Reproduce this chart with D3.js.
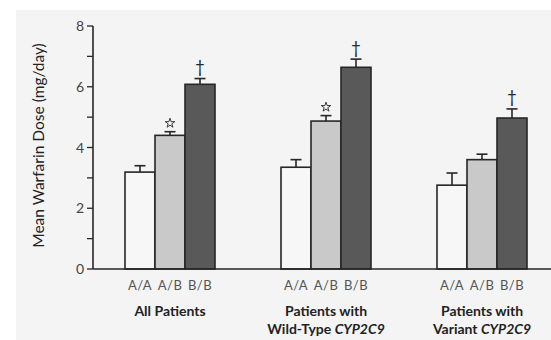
<!DOCTYPE html>
<html>
<head>
<meta charset="utf-8">
<script src="https://cdn.jsdelivr.net/npm/d3@7"></script>
<style>
  html, body { margin: 0; padding: 0; background: #ffffff; }
  svg { display: block; }
  text { font-family: Lato, "Open Sans", sans-serif; }
</style>
</head>
<body>
<script>
// Patient groups (title lines are split at "with")
const groups = ["All Patients", "Patients with Wild-Type CYP2C9", "Patients with Variant CYP2C9"];
const genotypes = ["A/A", "A/B", "B/B"];

// Mean warfarin dose (mg/day) per genotype in each group
const meanAA = [3.19, 3.35, 2.76];
const meanAB = [4.40, 4.87, 3.60];
const meanBB = [6.08, 6.64, 4.97];

// Upper end of the error bar (mean + SE)
const upperAA = [3.40, 3.60, 3.16];
const upperAB = [4.52, 5.05, 3.78];
const upperBB = [6.27, 6.91, 5.27];

// Significance markers above bars: "star" or "dagger"
const markAA = ["", "", ""];
const markAB = ["star", "star", ""];
const markBB = ["dagger", "dagger", "dagger"];

const yTicks = [0, 1, 2, 3, 4, 5, 6, 7, 8];
const yLabelTicks = [0, 2, 4, 6, 8];

const W = 551, H = 340;
const svg = d3.select("body").append("svg").attr("width", W).attr("height", H);

// light panel
svg.append("rect").attr("x", 16).attr("y", 10).attr("width", W - 16).attr("height", H - 10).attr("fill", "#f4f4f4");

const axisX = 93;
const y = d3.scaleLinear().domain([0, 8]).range([269, 26]);
const x0 = d3.scaleBand().domain(groups).range([92, 560]);
const x1 = d3.scaleBand().domain(genotypes).range([0, 90]);

const rows = [];
groups.forEach((g, i) => {
  rows.push({ g, k: "A/A", v: meanAA[i], hi: upperAA[i], m: markAA[i] });
  rows.push({ g, k: "A/B", v: meanAB[i], hi: upperAB[i], m: markAB[i] });
  rows.push({ g, k: "B/B", v: meanBB[i], hi: upperBB[i], m: markBB[i] });
});
const fills = { "A/A": "#f7f7f7", "A/B": "#c9c9c9", "B/B": "#595959" };
const ink = "#262626";

const bx = d => Math.round(x0(d.g) + (x0.bandwidth() - 90) / 2 + x1(d.k));
const cxOf = d => bx(d) + x1.bandwidth() / 2;

// error bars (drawn under the bars so only the upper half shows)
const eb = svg.append("g").attr("stroke", ink).attr("stroke-width", 1.6);
rows.forEach(d => {
  const cx = cxOf(d);
  eb.append("line").attr("x1", cx).attr("x2", cx).attr("y1", y(d.v)).attr("y2", y(d.hi));
  eb.append("line").attr("x1", cx - 5.5).attr("x2", cx + 5.5).attr("y1", y(d.hi)).attr("y2", y(d.hi));
});

svg.append("g").selectAll("rect").data(rows).join("rect")
  .attr("x", bx).attr("width", x1.bandwidth())
  .attr("y", d => y(d.v)).attr("height", d => y(0) - y(d.v))
  .attr("fill", d => fills[d.k]).attr("stroke", ink).attr("stroke-width", 1.6);

// open stars
const star = d3.symbol().type(d3.symbolStar).size(28);
svg.append("g").selectAll("path").data(rows.filter(d => d.m === "star")).join("path")
  .attr("d", star)
  .attr("transform", d => `translate(${cxOf(d)}, ${y(d.hi) - 8.5})`)
  .attr("fill", "none").attr("stroke", ink).attr("stroke-width", 0.9);

// daggers
svg.append("g").selectAll("text").data(rows.filter(d => d.m === "dagger")).join("text")
  .attr("x", cxOf)
  .attr("y", d => y(d.hi) - 5.5)
  .attr("text-anchor", "middle")
  .attr("font-family", "DejaVu Sans")
  .attr("font-size", 17)
  .attr("fill", ink)
  .text("†");

// y axis
const ya = svg.append("g");
ya.append("line").attr("x1", axisX).attr("x2", axisX).attr("y1", y(8)).attr("y2", y(0)).attr("stroke", ink).attr("stroke-width", 1.6);
ya.selectAll("line.t").data(yTicks).join("line").attr("class", "t")
  .attr("x1", axisX - 6).attr("x2", axisX).attr("y1", d => y(d)).attr("y2", d => y(d))
  .attr("stroke", ink).attr("stroke-width", 1.3);
ya.selectAll("text").data(yLabelTicks).join("text")
  .attr("x", axisX - 9).attr("y", d => y(d)).attr("dy", "0.36em")
  .attr("text-anchor", "end").attr("font-size", 14).attr("fill", "#444").text(d => d);

// baseline
svg.append("line").attr("x1", axisX).attr("x2", W).attr("y1", y(0)).attr("y2", y(0)).attr("stroke", ink).attr("stroke-width", 1.6);

// y axis title
svg.append("text").attr("transform", `translate(44, ${(y(0) + y(8)) / 2 - 2}) rotate(-90)`)
  .attr("text-anchor", "middle").attr("font-size", 15.5).attr("fill", "#222")
  .text("Mean Warfarin Dose (mg/day)");

// genotype labels
svg.append("g").selectAll("text").data(rows).join("text")
  .attr("x", cxOf).attr("y", 290)
  .attr("text-anchor", "middle").attr("font-size", 13).attr("letter-spacing", 0.5).attr("fill", "#555")
  .text(d => d.k);

// group titles
const gt = svg.append("g").attr("font-weight", "bold").attr("font-size", 14).attr("fill", "#222").attr("text-anchor", "middle");
groups.forEach(g => {
  const cx = x0(g) + x0.bandwidth() / 2;
  const m = g.match(/^(Patients with) (.*?)(CYP2C9)?$/);
  if (!m) {
    gt.append("text").attr("x", cx).attr("y", 316).text(g);
  } else {
    gt.append("text").attr("x", cx).attr("y", 316).text(m[1]);
    const t = gt.append("text").attr("x", cx).attr("y", 334);
    t.append("tspan").text(m[2]);
    if (m[3]) t.append("tspan").attr("font-style", "italic").text(m[3]);
  }
});
</script>
</body>
</html>
